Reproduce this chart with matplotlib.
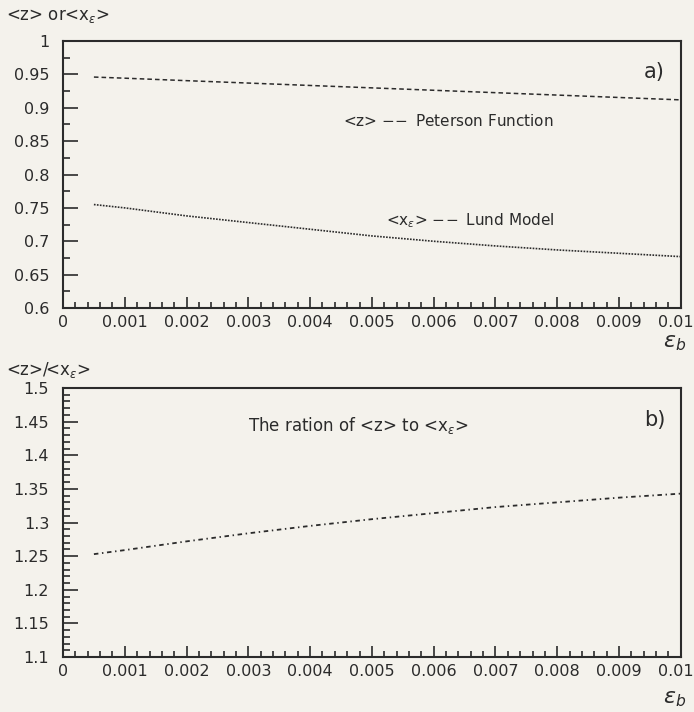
import matplotlib
matplotlib.use('Agg')
from matplotlib import pyplot as plt
from matplotlib.ticker import MultipleLocator, FuncFormatter
from matplotlib.transforms import ScaledTranslation

eps_b = [0.0005, 0.001, 0.002, 0.003, 0.004, 0.005, 0.006, 0.007, 0.008, 0.009, 0.01]
z_peterson = [0.946, 0.9443, 0.9406, 0.9370, 0.9334, 0.9298, 0.9262, 0.9226, 0.9190, 0.9154, 0.9118]
xe_lund = [0.755, 0.750, 0.738, 0.728, 0.718, 0.708, 0.700, 0.693, 0.687, 0.682, 0.677]
ratio = [1.253, 1.259, 1.272, 1.284, 1.295, 1.305, 1.314, 1.323, 1.330, 1.337, 1.343]

xticks = [0, 0.001, 0.002, 0.003, 0.004, 0.005, 0.006, 0.007, 0.008, 0.009, 0.01]

bg = '#f4f2ec'
ink = '#2b2b2b'
plt.rcParams['font.family'] = ['DejaVu Sans']
plt.rcParams['mathtext.fontset'] = 'dejavusans'


def fmt(v, pos):
    return ('%.3f' % v).rstrip('0').rstrip('.')


def style_axes(ax, ymin, ymax, yminor):
    ax.set_facecolor(bg)
    ax.set_xlim(0, 0.01)
    ax.set_ylim(ymin, ymax)
    ax.set_xticks(xticks)
    ax.xaxis.set_major_formatter(FuncFormatter(fmt))
    ax.yaxis.set_major_formatter(FuncFormatter(fmt))
    ax.xaxis.set_minor_locator(MultipleLocator(0.0002))
    ax.yaxis.set_major_locator(MultipleLocator(0.05))
    ax.yaxis.set_minor_locator(MultipleLocator(yminor))
    ax.tick_params(which='both', direction='in', top=False, right=False,
                   colors=ink, labelsize=11.5, width=1.2)
    ax.tick_params(axis='x', which='major', length=8, pad=5)
    ax.tick_params(axis='x', which='minor', length=4)
    ax.tick_params(axis='y', which='major', length=11, pad=10)
    ax.tick_params(axis='y', which='minor', length=5)
    for s in ax.spines.values():
        s.set_linewidth(1.5)
        s.set_color(ink)
    # keep the last label "0.01" inside the figure
    last = ax.get_xticklabels()[-1]
    last.set_transform(last.get_transform() + ScaledTranslation(-0.05, 0, fig.dpi_scale_trans))


fig = plt.figure(figsize=(6.94, 7.12), dpi=100, facecolor=bg)

# a) mean values
ax1 = fig.add_axes([0.0908, 0.5674, 0.8902, 0.375])
style_axes(ax1, 0.6, 1.0, 0.025)
ax1.plot(eps_b, z_peterson, color=ink, lw=1.1, dashes=(3, 2))
ax1.plot(eps_b, xe_lund, color=ink, lw=1.2, dashes=(1, 0.8))
ax1.text(0.94, 0.86, 'a)', transform=ax1.transAxes, fontsize=15, color=ink)
ax1.text(0.795, 0.68, '<z> $-\\!-$ Peterson Function', transform=ax1.transAxes,
         fontsize=11, color=ink, ha='right')
ax1.text(0.795, 0.31, '<x$_\\epsilon$> $-\\!-$ Lund Model', transform=ax1.transAxes,
         fontsize=11, color=ink, ha='right')
fig.text(0.008, 0.972, '<z> or<x$_\\epsilon$>', fontsize=12, color=ink)
fig.text(0.955, 0.533, '$\\varepsilon_b$', fontsize=16, color=ink, va='top')

# b) ratio
ax2 = fig.add_axes([0.0908, 0.0772, 0.8902, 0.3778])
style_axes(ax2, 1.1, 1.5, 0.01)
ax2.plot(eps_b, ratio, color=ink, lw=1.3, dashes=(2.5, 2, 0.8, 2))
ax2.text(0.94, 0.86, 'b)', transform=ax2.transAxes, fontsize=15, color=ink)
ax2.text(0.30, 0.84, 'The ration of <z> to <x$_\\epsilon$>', transform=ax2.transAxes,
         fontsize=12, color=ink)
fig.text(0.008, 0.474, '<z>/<x$_\\epsilon$>', fontsize=12, color=ink)
fig.text(0.955, 0.018, '$\\varepsilon_b$', fontsize=16, color=ink, va='center')

fig.savefig('out.png', dpi=100, facecolor=bg)
